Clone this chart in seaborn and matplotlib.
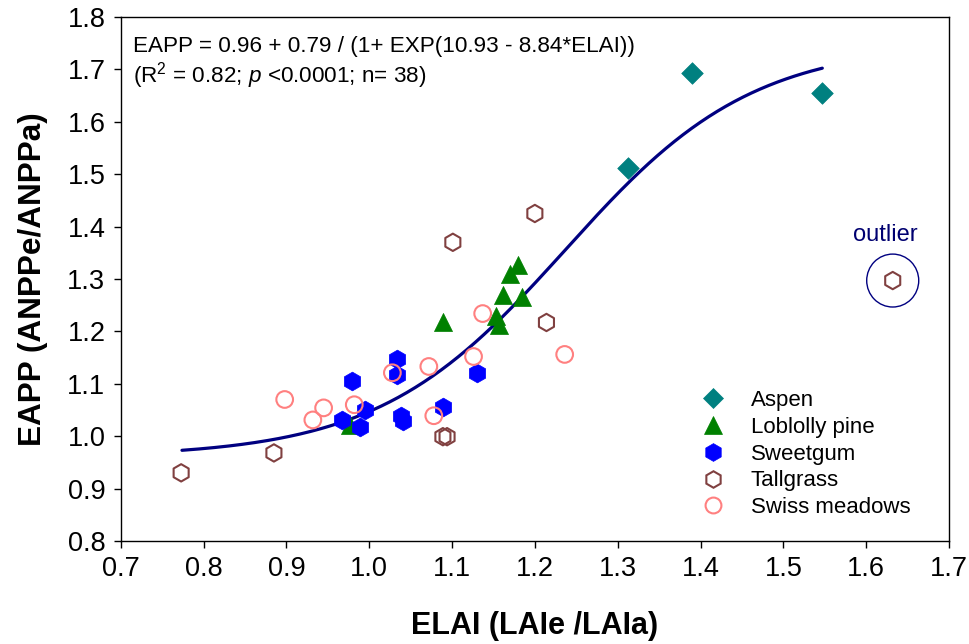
import numpy as np
import pandas as pd
import matplotlib
matplotlib.use("Agg")
import matplotlib.pyplot as plt
import seaborn as sns
from matplotlib.patches import Ellipse

sns.set_style("ticks")
plt.rcParams['font.family'] = ['Liberation Sans', 'DejaVu Sans']
plt.rcParams['mathtext.fontset'] = 'custom'
plt.rcParams['mathtext.rm'] = 'Liberation Sans'
plt.rcParams['mathtext.it'] = 'Liberation Sans:italic'
plt.rcParams['text.color'] = 'black'
plt.rcParams['axes.labelcolor'] = 'black'
plt.rcParams['xtick.color'] = 'black'
plt.rcParams['ytick.color'] = 'black'

# ---- data ----
aspen_x = [1.313, 1.390, 1.547]
aspen_y = [1.511, 1.693, 1.655]
loblolly_x = [0.977, 1.089, 1.153, 1.157, 1.161, 1.170, 1.180, 1.184]
loblolly_y = [1.022, 1.217, 1.230, 1.213, 1.270, 1.309, 1.326, 1.266]
sweetgum_x = [0.967, 0.979, 0.989, 0.995, 1.034, 1.034, 1.039, 1.041, 1.089, 1.130]
sweetgum_y = [1.031, 1.106, 1.018, 1.050, 1.148, 1.117, 1.039, 1.028, 1.056, 1.121]
tallgrass_x = [0.773, 0.885, 1.089, 1.094, 1.101, 1.200, 1.214, 1.632]
tallgrass_y = [0.930, 0.968, 0.999, 0.999, 1.370, 1.425, 1.217, 1.297]
swiss_x = [0.898, 0.932, 0.945, 0.982, 1.028, 1.072, 1.078, 1.126, 1.137, 1.236]
swiss_y = [1.070, 1.031, 1.054, 1.060, 1.121, 1.133, 1.039, 1.152, 1.234, 1.156]

outlier_x, outlier_y = 1.632, 1.297

# fitted logistic curve coefficients (from the equation shown)
fit_a, fit_b, fit_c, fit_d = 0.96, 0.79, 10.93, 8.84
fit_xmin, fit_xmax = 0.774, 1.547

groups = [
    ("Aspen", aspen_x, aspen_y, "D", "#008080", True, 11.0),
    ("Loblolly pine", loblolly_x, loblolly_y, "^", "#008000", True, 13.0),
    ("Sweetgum", sweetgum_x, sweetgum_y, "h", "#0000FF", True, 13.5),
    ("Tallgrass", tallgrass_x, tallgrass_y, "h", "#804040", False, 12.5),
    ("Swiss meadows", swiss_x, swiss_y, "o", "#FF8080", False, 12.0),
]

fig = plt.figure(figsize=(9.7, 6.44), dpi=100)
ax = fig.add_axes([0.1244, 0.160, 0.854, 0.8136])

# fitted curve
xf = np.linspace(fit_xmin, fit_xmax, 300)
yf = fit_a + fit_b / (1 + np.exp(fit_c - fit_d * xf))
sns.lineplot(x=xf, y=yf, ax=ax, color="#000080", linewidth=2.3, zorder=1)

handles = []
for name, xs, ys, mk, col, filled, ms in groups:
    df = pd.DataFrame({"x": xs, "y": ys})
    if filled:
        sns.scatterplot(data=df, x="x", y="y", ax=ax, marker=mk, s=ms**2,
                        color=col, edgecolor=col, linewidth=0.5, zorder=3)
    else:
        sns.scatterplot(data=df, x="x", y="y", ax=ax, marker=mk, s=ms**2,
                        facecolor="none", edgecolor=col, linewidth=1.5, zorder=3)
    h, = ax.plot([], [], linestyle="none", marker=mk, markersize=ms * 0.95,
                 markerfacecolor=col if filled else "none", markeredgecolor=col,
                 markeredgewidth=0.5 if filled else 1.5)
    handles.append((h, name))

# outlier annotation
ax.add_patch(Ellipse((outlier_x, outlier_y), width=0.0628, height=0.101,
                     fill=False, edgecolor="#000080", linewidth=1.0, zorder=2))
ax.text(outlier_x - 0.009, 1.383, "outlier", color="#000070", fontsize=17,
        ha="center", va="center")

# equation text
ax.text(0.0145, 0.943, "EAPP = 0.96 + 0.79 / (1+ EXP(10.93 - 8.84*ELAI))",
        transform=ax.transAxes, fontsize=16.2, ha="left", va="center")
ax.text(0.0145, 0.889, r"(R$^2$ = 0.82; $p$ <0.0001; n= 38)",
        transform=ax.transAxes, fontsize=16.2, ha="left", va="center")

ax.set_xlim(0.7, 1.7)
ax.set_ylim(0.8, 1.8)
ax.set_xticks(np.round(np.arange(0.7, 1.71, 0.1), 1))
ax.set_yticks(np.round(np.arange(0.8, 1.81, 0.1), 1))
ax.set_xticklabels([f"{v:.1f}" for v in np.arange(0.7, 1.71, 0.1)])
ax.set_yticklabels([f"{v:.1f}" for v in np.arange(0.8, 1.81, 0.1)])
ax.tick_params(axis="both", labelsize=19.5, direction="out", length=5,
               width=1.0, color="black", labelcolor="black", pad=6)
for s in ["left", "bottom", "top", "right"]:
    ax.spines[s].set_visible(True)
    ax.spines[s].set_linewidth(1.0)
    ax.spines[s].set_color("black")

ax.set_xlabel("ELAI (LAIe /LAIa)", fontsize=22, fontweight="bold", labelpad=21)
ax.set_ylabel("EAPP (ANPPe/ANPPa)", fontsize=22.7, fontweight="bold", labelpad=14)

leg = ax.legend([h for h, _ in handles], [n for _, n in handles],
                loc="upper left", bbox_to_anchor=(0.691, 0.305), frameon=False,
                fontsize=16, handletextpad=1.2, labelspacing=0.26,
                handlelength=1.0, borderaxespad=0)

fig.savefig("out.png", dpi=100)
